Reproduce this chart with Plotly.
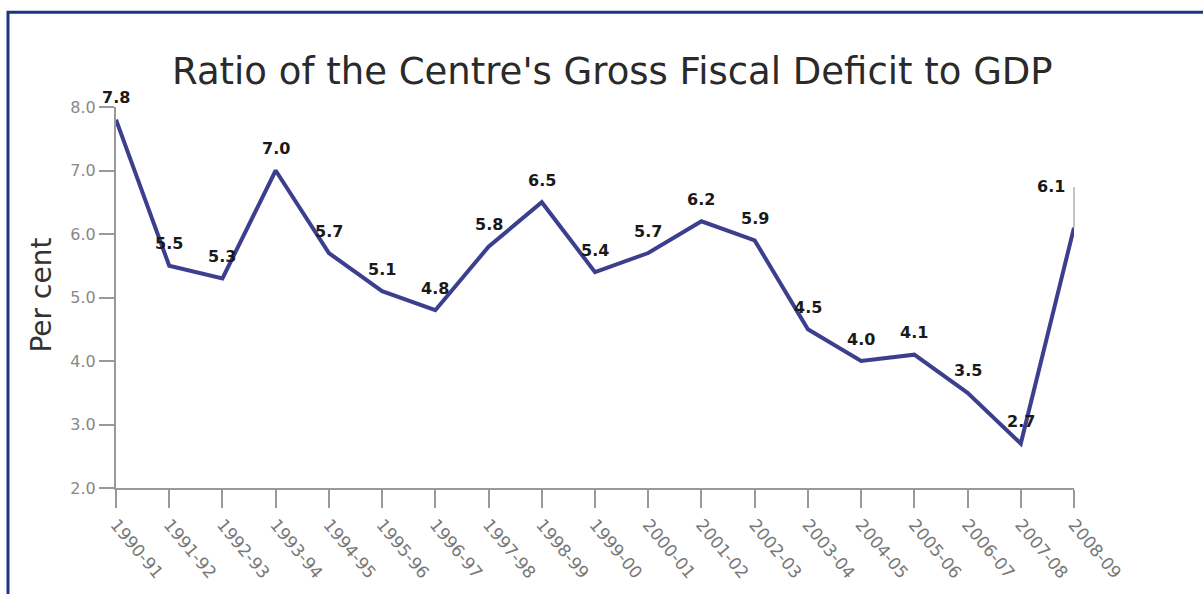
import plotly.graph_objects as go

years = ["1990-91", "1991-92", "1992-93", "1993-94", "1994-95", "1995-96", "1996-97",
         "1997-98", "1998-99", "1999-00", "2000-01", "2001-02", "2002-03", "2003-04",
         "2004-05", "2005-06", "2006-07", "2007-08", "2008-09"]
deficit = [7.8, 5.5, 5.3, 7.0, 5.7, 5.1, 4.8, 5.8, 6.5, 5.4, 5.7, 6.2, 5.9, 4.5,
           4.0, 4.1, 3.5, 2.7, 6.1]
y_ticks = [2.0, 3.0, 4.0, 5.0, 6.0, 7.0, 8.0]

W, H = 1203, 594
L, R, T, B = 116, 129, 107, 103
PW, PH = W - L - R, H - T - B

fig = go.Figure()
fig.add_trace(go.Scatter(
    x=list(range(len(years))), y=deficit, mode="lines",
    line=dict(color="#3c3f8d", width=4), cliponaxis=False,
    hoverinfo="skip", showlegend=False))

label_font = dict(family="DejaVu Sans", size=16, color="#1a1a1a")
annotations = []
last = len(years) - 1
for i, v in enumerate(deficit):
    txt = "<b>%.1f</b>" % v
    if i == last:
        annotations.append(dict(x=i, y=v, xref="x", yref="y", text="",
                                showarrow=True, arrowhead=0, arrowwidth=1,
                                arrowcolor="#888", ax=0, ay=-42, axref="pixel", ayref="pixel"))
        annotations.append(dict(x=i, y=v, xref="x", yref="y", text=txt,
                                showarrow=False, xanchor="right", yshift=41, xshift=-7,
                                font=label_font))
    else:
        annotations.append(dict(x=i, y=v, xref="x", yref="y", text=txt,
                                showarrow=False, yshift=22, font=label_font))

annotations.append(dict(text="Ratio of the Centre's Gross Fiscal Deficit to GDP",
                        xref="paper", yref="paper", x=(612 - L) / PW, y=(H - B - 71) / PH,
                        xanchor="center", yanchor="middle", showarrow=False,
                        font=dict(family="DejaVu Sans", size=37, color="#2a2a2a")))
annotations.append(dict(text="Per cent", xref="paper", yref="paper",
                        x=(42 - L) / PW, y=(H - B - 297) / PH, textangle=-90,
                        xanchor="center", yanchor="middle", showarrow=False,
                        font=dict(family="DejaVu Sans", size=28, color="#333333")))

shapes = [dict(type="rect", xref="paper", yref="paper",
               x0=(8 - L) / PW, x1=(W + 20 - L) / PW,
               y0=(H - B - (H + 20)) / PH, y1=(H - B - 11.5) / PH,
               line=dict(color="#1b3683", width=3), fillcolor="rgba(0,0,0,0)", layer="below")]

fig.update_layout(
    width=W, height=H, margin=dict(l=L, r=R, t=T, b=B),
    paper_bgcolor="white", plot_bgcolor="white",
    annotations=annotations, shapes=shapes,
    xaxis=dict(range=[0, last], tickmode="array", tickvals=list(range(len(years))),
               ticktext=years, tickangle=50, showgrid=False, zeroline=False,
               showline=True, linecolor="#999999", linewidth=2,
               ticks="outside", ticklen=18, tickcolor="#999999", tickwidth=2,
               tickfont=dict(family="DejaVu Sans", size=17, color="#777777")),
    yaxis=dict(range=[2, 8], tickmode="array", tickvals=y_ticks,
               ticktext=["%.1f" % t for t in y_ticks], showgrid=False, zeroline=False,
               showline=True, linecolor="#999999", linewidth=2,
               ticks="outside", ticklen=15, tickcolor="#999999", tickwidth=2,
               tickfont=dict(family="DejaVu Sans", size=16, color="#888888")),
)

fig.write_html("out.html")
